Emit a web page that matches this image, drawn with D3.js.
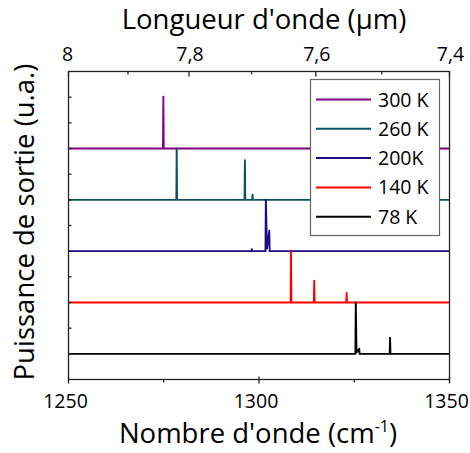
<!DOCTYPE html>
<html><head><meta charset="utf-8">
<script src="https://cdn.jsdelivr.net/npm/d3@7"></script>
<style>
body{margin:0;background:#fff}
text{font-family:"Open Sans",sans-serif;fill:#000}
</style>
</head><body>
<svg id="c" width="470" height="453"></svg>
<script>
// ---- data ----
const seriesNames = ["300 K", "260 K", "200K", "140 K", "78 K"];
const seriesColors = ["#800080", "#0b5362", "#1a0a88", "#ff0000", "#000000"];
const seriesOffsets = [9, 7, 5, 3, 1];
// spectra: [wavenumber (cm-1), relative output power above the offset]
const s300 = [[1250,0],[1274.8,0],[1274.9,2.02],[1275.0,0],[1350,0]];
const s260 = [[1250,0],[1278.3,0],[1278.4,2.0],[1278.5,0],[1296.2,0],[1296.3,1.54],[1296.4,0],[1298.2,0],[1298.3,0.2],[1298.4,0],[1350,0]];
const s200 = [[1250,0],[1298.0,0],[1298.1,0.08],[1298.2,0],[1301.7,0],[1301.8,2.0],[1302.1,0.1],[1302.7,0.8],[1302.8,0],[1350,0]];
const s140 = [[1250,0],[1308.3,0],[1308.4,2.0],[1308.5,0],[1314.4,0],[1314.5,0.85],[1314.6,0],[1322.9,0],[1323.0,0.37],[1323.1,0],[1350,0]];
const s78  = [[1250,0],[1325.3,0],[1325.4,2.0],[1325.6,0.05],[1326.3,0.2],[1326.4,0],[1334.3,0],[1334.4,0.63],[1334.5,0],[1350,0]];
const spectra = [s300, s260, s200, s140, s78];

const xTicks = [1250, 1300, 1350];
const xMinorTicks = [1275, 1325];
const topTicks = [8, 7.8, 7.6, 7.4];
const topTickLabels = ["8", "7,8", "7,6", "7,4"];
const topMinorTicks = [7.9, 7.7, 7.5];
const yTicks = [1,2,3,4,5,6,7,8,9,10,11];

// ---- layout ----
const svg = d3.select("#c");
const X0 = 68.5, X1 = 449.5, Y0 = 71.5, Y1 = 379.5;
const x = d3.scaleLinear().domain([1250, 1350]).range([X0, X1]);
const xTop = d3.scaleLinear().domain([1e4/8, 1e4/7.4]).range([X0, X1]);
const y = d3.scaleLinear().domain([0, 12]).range([Y1, Y0]);
const axisColor = "#222";

// spectra
const line = d3.line().x(d => x(d[0])).y(d => d[1]);
spectra.forEach((s, i) => {
  svg.append("path")
    .attr("d", line(s.map(d => [d[0], y(d[1] + seriesOffsets[i])])))
    .attr("fill", "none").attr("stroke", seriesColors[i])
    .attr("stroke-width", 1.9).attr("stroke-linejoin", "round");
});

// frame
svg.append("rect").attr("x", X0).attr("y", Y0).attr("width", X1 - X0).attr("height", Y1 - Y0)
  .attr("fill", "none").attr("stroke", axisColor).attr("stroke-width", 1.3);

// bottom axis
const gb = svg.append("g");
xTicks.forEach(v => gb.append("line").attr("x1", x(v)).attr("x2", x(v)).attr("y1", Y1 - 3).attr("y2", Y1 + 4).attr("stroke", axisColor).attr("stroke-width", 1.3));
xMinorTicks.forEach(v => gb.append("line").attr("x1", x(v)).attr("x2", x(v)).attr("y1", Y1).attr("y2", Y1 + 3).attr("stroke", axisColor).attr("stroke-width", 1.3));
xTicks.forEach(v => gb.append("text").attr("x", x(v) - 3).attr("y", 408).attr("text-anchor", "middle").attr("font-size", 19.5).text(v));

// top axis
const gt = svg.append("g");
topTicks.forEach(v => gt.append("line").attr("x1", xTop(1e4/v)).attr("x2", xTop(1e4/v)).attr("y1", Y0).attr("y2", Y0 + 5).attr("stroke", axisColor).attr("stroke-width", 1.3));
topMinorTicks.forEach(v => gt.append("line").attr("x1", xTop(1e4/v)).attr("x2", xTop(1e4/v)).attr("y1", Y0).attr("y2", Y0 + 3).attr("stroke", axisColor).attr("stroke-width", 1.3));
topTicks.forEach((v, i) => gt.append("text").attr("x", xTop(1e4/v) + (i === 0 ? -1 : 1)).attr("y", 61).attr("text-anchor", "middle").attr("font-size", 19.5).text(topTickLabels[i]));

// left axis ticks
yTicks.forEach(v => svg.append("line").attr("x1", X0).attr("x2", X0 + 3).attr("y1", y(v)).attr("y2", y(v)).attr("stroke", axisColor).attr("stroke-width", 1.3));

// titles
svg.append("text").attr("x", 264).attr("y", 29).attr("text-anchor", "middle").attr("font-size", 27.5).text("Longueur d'onde (µm)");
const bt = svg.append("text").attr("x", 258).attr("y", 443).attr("text-anchor", "middle").attr("font-size", 27.5);
bt.append("tspan").text("Nombre d'onde (cm");
bt.append("tspan").attr("font-size", 16).attr("dy", -11).text("-1");
bt.append("tspan").attr("dy", 11).text(")");
svg.append("text").attr("transform", "translate(34,222) rotate(-90)").attr("text-anchor", "middle").attr("font-size", 27.5).text("Puissance de sortie (u.a.)");

// legend
const lg = svg.append("g");
lg.append("rect").attr("x", 310.5).attr("y", 79.5).attr("width", 129).attr("height", 156)
  .attr("fill", "#fff").attr("stroke", "#666").attr("stroke-width", 1.2);
seriesNames.forEach((n, i) => {
  const yy = 99.5 + i * 29.3;
  lg.append("line").attr("x1", 316).attr("x2", 371).attr("y1", yy).attr("y2", yy).attr("stroke", seriesColors[i]).attr("stroke-width", 2);
  lg.append("text").attr("x", 378).attr("y", yy + 7).attr("font-size", 19.5).text(n);
});
</script>
</body></html>
